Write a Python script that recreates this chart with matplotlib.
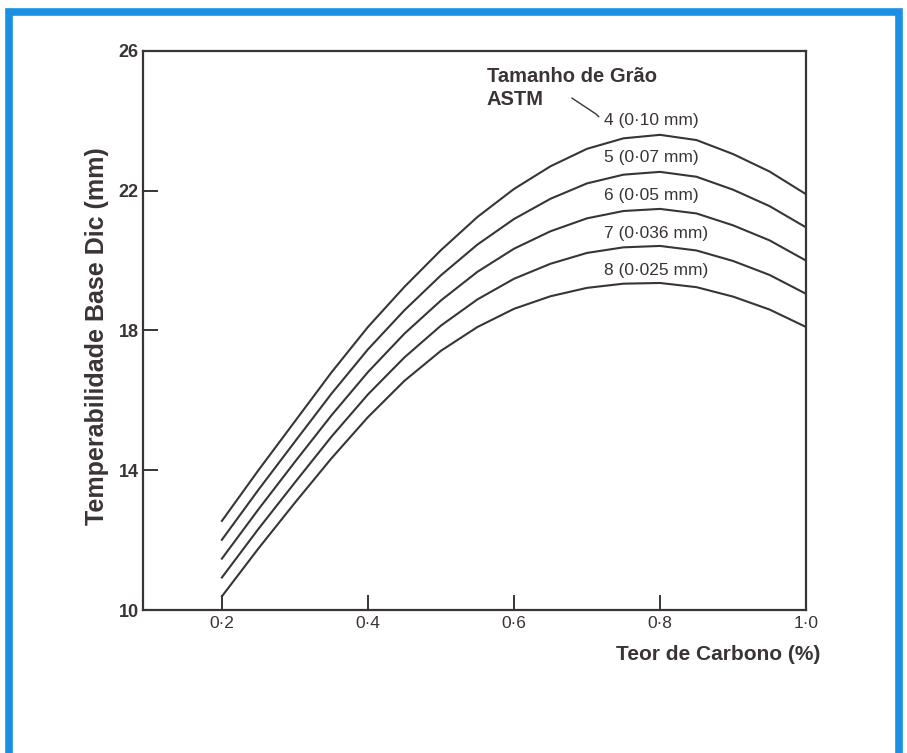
import matplotlib.pyplot as plt
from matplotlib.patches import Rectangle

plt.rcParams['font.family'] = ['Liberation Sans', 'DejaVu Sans']

# Teor de carbono (%)
carbono = [0.20, 0.25, 0.30, 0.35, 0.40, 0.45, 0.50, 0.55, 0.60,
           0.65, 0.70, 0.75, 0.80, 0.85, 0.90, 0.95, 1.00]

# Temperabilidade (mm) para cada tamanho de grão ASTM
astm4 = [12.55, 14.00, 15.40, 16.80, 18.10, 19.25, 20.30, 21.25, 22.05,
         22.70, 23.20, 23.50, 23.60, 23.45, 23.05, 22.55, 21.90]
astm5 = [12.01, 13.44, 14.82, 16.19, 17.46, 18.58, 19.58, 20.46, 21.19,
         21.77, 22.21, 22.46, 22.54, 22.40, 22.03, 21.56, 20.95]
astm6 = [11.47, 12.88, 14.24, 15.57, 16.81, 17.91, 18.86, 19.68, 20.34,
         20.84, 21.21, 21.42, 21.48, 21.35, 21.01, 20.58, 20.00]
astm7 = [10.93, 12.32, 13.65, 14.96, 16.17, 17.23, 18.14, 18.89, 19.48,
         19.91, 20.22, 20.38, 20.42, 20.29, 19.99, 19.59, 19.05]
astm8 = [10.39, 11.76, 13.07, 14.34, 15.52, 16.56, 17.42, 18.10, 18.62,
         18.98, 19.22, 19.34, 19.36, 19.24, 18.97, 18.60, 18.10]

curvas = [astm4, astm5, astm6, astm7, astm8]
rotulos = ['4 (0·10 mm)', '5 (0·07 mm)', '6 (0·05 mm)',
           '7 (0·036 mm)', '8 (0·025 mm)']

xticks = [0.2, 0.4, 0.6, 0.8, 1.0]
xticklabels = ['0·2', '0·4', '0·6', '0·8', '1·0']
yticks = [10, 14, 18, 22, 26]

ink = '#3a3434'

fig = plt.figure(figsize=(9.07, 7.53), dpi=100)
fig.patch.set_facecolor('white')

# moldura azul
fig.patches.append(Rectangle((8.5 / 907, -0.05), 890 / 907, 1.05 - 12.5 / 753,
                             transform=fig.transFigure, fill=False,
                             edgecolor='#1b8fe4', linewidth=5.5, zorder=0))

ax = fig.add_axes([0.1577, 0.1899, 0.731, 0.7424])
ax.set_facecolor('none')

for serie in curvas:
    ax.plot(carbono, serie, color=ink, linewidth=1.5,
            solid_joinstyle='round')

ax.set_xlim(0.092, 1.0)
ax.set_ylim(10, 26)

ax.set_xticks(xticks)
ax.set_xticklabels(xticklabels)
ax.set_yticks(yticks)
ax.tick_params(axis='both', direction='in', color=ink, width=1.4)
ax.tick_params(axis='x', length=11, pad=4, labelsize=12.5, labelcolor=ink)
ax.tick_params(axis='y', length=11, pad=3, labelsize=13, labelcolor=ink)
for t in ax.get_yticklabels():
    t.set_fontweight('bold')

for s in ax.spines.values():
    s.set_color(ink)
    s.set_linewidth(1.6)

ax.set_xlabel('Teor de Carbono (%)', fontsize=15, fontweight='bold',
              color=ink, ha='right')
ax.xaxis.set_label_coords(1.022, -0.062)
ax.set_ylabel('Temperabilidade Base Dic (mm)', fontsize=18, fontweight='bold',
              color=ink)
ax.yaxis.set_label_coords(-0.052, 0.49)

# legenda dos tamanhos de grão
ax.text(0.563, 25.28, 'Tamanho de Grão', fontsize=14.5, fontweight='bold',
        color=ink, va='center', ha='left')
ax.text(0.563, 24.60, 'ASTM', fontsize=14.5, fontweight='bold',
        color=ink, va='center', ha='left')
ax.plot([0.6795, 0.712, 0.716], [24.65, 24.20, 24.12], color=ink,
        linewidth=1.0)

for rotulo, y in zip(rotulos, [24.02, 22.94, 21.85, 20.79, 19.73]):
    ax.text(0.723, y, rotulo, fontsize=12.5, color=ink, va='center', ha='left')

fig.savefig('out.png', dpi=100)
